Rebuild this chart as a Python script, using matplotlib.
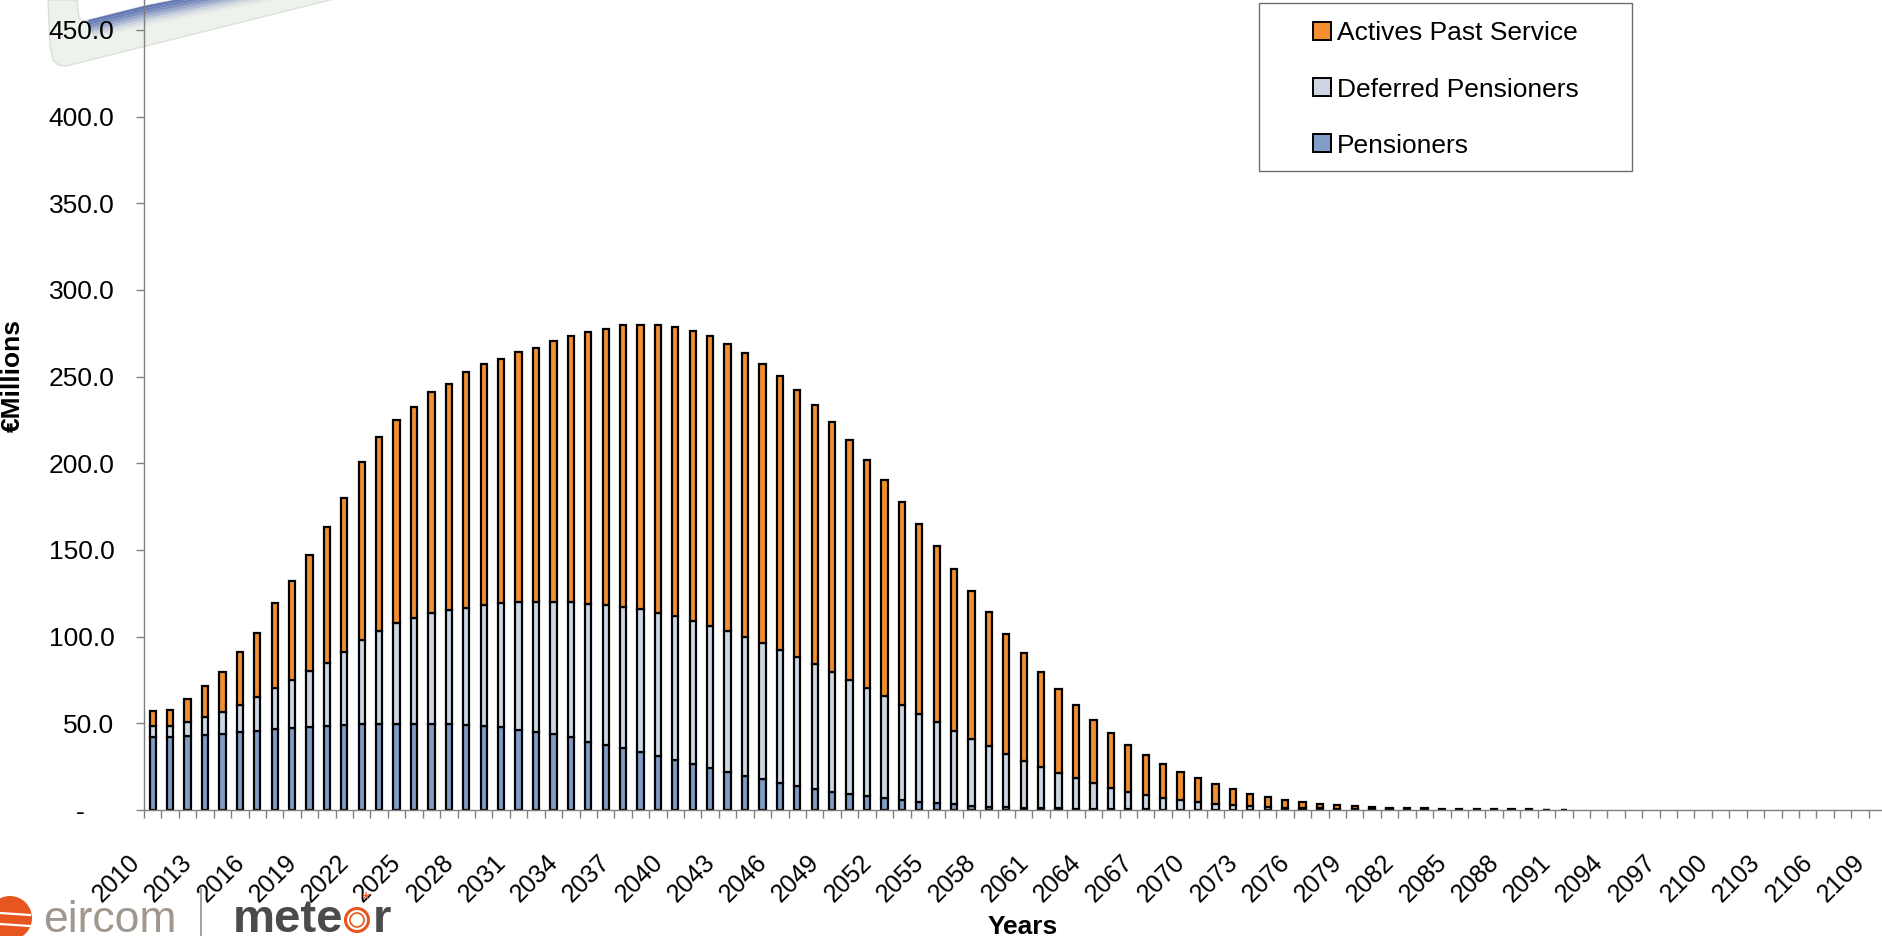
import numpy as np
import matplotlib
matplotlib.use("Agg")
import matplotlib.pyplot as plt
from matplotlib import transforms
from matplotlib.patches import Rectangle, Polygon, Circle
from matplotlib.lines import Line2D

plt.rcParams["font.family"] = ["Liberation Sans", "DejaVu Sans"]

# ---- data -----------------------------------------------------------------
years = list(range(2010, 2110))

pensioners = [
    42.1, 42.3, 42.9, 43.5, 44.0, 45.0, 45.8, 46.7, 47.5, 48.1,
    48.7, 49.2, 49.6, 49.8, 49.8, 49.8, 49.8, 49.4, 49.0, 48.3,
    47.7, 46.3, 45.2, 43.7, 42.1, 39.4, 37.7, 35.6, 33.7, 31.3,
    29.0, 26.7, 24.4, 21.9, 19.8, 17.9, 15.8, 13.8, 12.3, 10.6,
    9.0, 7.9, 6.7, 5.8, 4.8, 4.0, 3.3, 2.5, 1.9, 1.6,
    1.4, 1.2, 1.0, 0.8, 0.6, 0.5, 0.4, 0.3, 0.25, 0.2,
    0.15, 0.12, 0.1, 0.08, 0.06, 0.05, 0.04, 0.03, 0.02, 0.02,
    0.01, 0.01, 0.01, 0.01, 0.0, 0.0, 0.0, 0.0, 0.0, 0.0,
    0.0, 0.0, 0.0, 0.0, 0.0, 0.0, 0.0, 0.0, 0.0, 0.0,
    0.0, 0.0, 0.0, 0.0, 0.0, 0.0, 0.0, 0.0, 0.0, 0.0,
]

deferred = [
    6.4, 6.2, 8.1, 10.2, 12.7, 15.8, 19.4, 23.5, 27.5, 31.9,
    36.3, 42.1, 48.5, 53.7, 57.9, 61.2, 63.9, 65.8, 67.7, 70.2,
    71.5, 73.5, 74.6, 76.5, 77.9, 79.6, 80.8, 81.5, 82.1, 82.5,
    82.7, 82.5, 81.9, 81.4, 80.0, 78.3, 76.7, 74.7, 71.7, 69.0,
    66.0, 62.3, 58.9, 54.8, 50.8, 46.6, 42.5, 38.7, 34.8, 30.7,
    27.1, 23.8, 20.5, 17.5, 14.8, 12.4, 10.2, 8.4, 6.65, 5.4,
    4.25, 3.38, 2.6, 2.02, 1.64, 1.25, 1.06, 0.87, 0.68, 0.48,
    0.39, 0.29, 0.24, 0.19, 0.17, 0.14, 0.12, 0.10, 0.08, 0.07,
    0.06, 0.05, 0.0, 0.0, 0.0, 0.0, 0.0, 0.0, 0.0, 0.0,
    0.0, 0.0, 0.0, 0.0, 0.0, 0.0, 0.0, 0.0, 0.0, 0.0,
]

actives = [
    8.6, 9.0, 13.0, 18.0, 22.7, 30.5, 37.1, 49.2, 57.3, 66.9,
    78.1, 88.9, 102.7, 111.9, 117.5, 121.7, 127.3, 130.8, 136.2, 139.0,
    140.8, 144.2, 146.9, 150.2, 153.4, 156.6, 159.2, 162.5, 164.2, 165.8,
    166.8, 167.3, 167.0, 165.7, 163.8, 161.3, 158.1, 154.0, 149.6, 144.0,
    138.3, 131.7, 124.6, 117.3, 109.4, 101.5, 93.2, 85.1, 77.3, 69.2,
    61.9, 54.8, 48.3, 42.3, 36.7, 31.5, 26.9, 23.0, 19.4, 16.3,
    13.9, 11.3, 9.2, 7.3, 6.0, 4.7, 3.7, 2.8, 2.2, 1.8,
    1.3, 1.0, 0.85, 0.7, 0.6, 0.5, 0.4, 0.32, 0.27, 0.22,
    0.18, 0.15, 0.0, 0.0, 0.0, 0.0, 0.0, 0.0, 0.0, 0.0,
    0.0, 0.0, 0.0, 0.0, 0.0, 0.0, 0.0, 0.0, 0.0, 0.0,
]

series_names = ["Pensioners", "Deferred Pensioners", "Actives Past Service"]
series_colors = ["#809DC8", "#CDD7E4", "#F38F31"]
y_ticks = [0, 50, 100, 150, 200, 250, 300, 350, 400, 450]
label_step = 3

# ---- figure ---------------------------------------------------------------
W, H = 1883, 936
fig = plt.figure(figsize=(W / 100, H / 100), dpi=100)
# pixel coordinates measured from the top-left corner of the figure
px = transforms.Affine2D().scale(1 / W, -1 / H).translate(0, 1) + fig.transFigure

ax = fig.add_axes([144 / W, 126 / H, 1742.1 / W, 866.7 / H])
ax.patch.set_alpha(0)

x = np.arange(len(years))
stack = [np.array(pensioners), np.array(deferred), np.array(actives)]
bottom = np.zeros(len(years))
for vals, name, col in zip(stack, series_names, series_colors):
    m = vals > 0
    ax.bar(x[m], vals[m], bottom=bottom[m], width=0.36, color=col,
           edgecolor="black", linewidth=1.6, joinstyle="miter", label=name,
           zorder=3)
    bottom = bottom + vals

ax.set_xlim(-0.5, len(years) - 0.5)
ax.set_ylim(0, 500)

for s in ("top", "right"):
    ax.spines[s].set_visible(False)
for s in ("left", "bottom"):
    ax.spines[s].set_color("#808080")
    ax.spines[s].set_linewidth(1.0)
    ax.spines[s].set_zorder(4)

ax.set_yticks(y_ticks)
ax.set_yticklabels(["-    " if v == 0 else f"{v:.1f}" for v in y_ticks])
ax.tick_params(axis="y", direction="out", length=5.8, width=1.0,
               color="#808080", labelsize=19, pad=15.5, labelcolor="black")

ax.set_xticks(np.arange(len(years) + 1) - 0.5)
ax.set_xticklabels([])
ax.tick_params(axis="x", direction="out", length=5.8, width=1.0,
               color="#808080")

lab_tr = transforms.offset_copy(ax.get_xaxis_transform(), fig=fig,
                                x=-8, y=-40, units="dots")
for i, yr in enumerate(years):
    if i % label_step == 0:
        ax.text(i, 0, str(yr), transform=lab_tr, rotation=45, ha="right",
                va="top", fontsize=18, color="black", clip_on=False)

fig.text(13, 375, "€Millions", transform=px, rotation=90, ha="center",
         va="center", fontsize=19, fontweight="bold")
fig.text(1023, 934, "Years", transform=px, ha="center", va="baseline",
         fontsize=19, fontweight="bold")

# ---- legend ---------------------------------------------------------------
fig.add_artist(Rectangle((1259, 171), 373, -168, transform=px, fill=False,
                         edgecolor="#6E6E6E", linewidth=1.0))
rows = [30.7, 87.3, 143.3]
for yc, name, col in zip(rows, series_names[::-1], series_colors[::-1]):
    fig.add_artist(Rectangle((1313, yc + 9), 18, -18, transform=px,
                             facecolor=col, edgecolor="black", linewidth=1.4))
    fig.text(1337, yc + 9.3, name, transform=px, ha="left", va="baseline",
             fontsize=19)

# ---- decorative picture frame in the top-left corner --------------------------
inner_edge = [(330, -31), (144, 6), (100, 17), (84, 21), (79, 18), (77, 0)]
outer = [(48, 0), (50, 45), (53, 60), (58, 65), (66, 66), (144, 46.5),
         (330, 0), (345, -5)]
fig.add_artist(Polygon(outer + inner_edge, closed=True, transform=px,
                       facecolor="#EEF2ED", edgecolor="#DADFD8",
                       linewidth=1.0, zorder=-2))
# soft blue band running along the inner edge of the lower rail
band_top = [(88, 20), (100, 17), (144, 6), (330, -31)]
for k, a in enumerate([0.78, 0.72, 0.62, 0.48, 0.34, 0.2, 0.1, 0.04]):
    d0, d1 = 2.4 * k, 2.4 * (k + 1)
    up = [(xx + 0.3 * d0, yy + d0) for xx, yy in band_top]
    lo = [(xx + 0.3 * d1, yy + d1) for xx, yy in band_top[::-1]]
    fig.add_artist(Polygon(up + lo, closed=True, transform=px,
                           facecolor="#3B55A5", edgecolor="none", alpha=a,
                           zorder=-1))

# ---- company marks at the bottom-left ---------------------------------------
fig.add_artist(Circle((10, 918), 22, transform=px, facecolor="#E8561F",
                      edgecolor="none"))
for yy in (913, 924):
    fig.add_artist(Line2D([0, 30], [yy, yy + 2], transform=px, color="white",
                          linewidth=1.6))
fig.text(43, 932, "eircom", transform=px, ha="left", va="baseline",
         fontsize=32, color="#A0978F")
fig.add_artist(Line2D([201, 201], [889, 936], transform=px, color="#9A9A9A",
                      linewidth=1.3))
fig.text(233, 932, "mete", transform=px, ha="left", va="baseline",
         fontsize=34, fontweight="bold", color="#4B4B4B")
fig.add_artist(Circle((357, 920), 11.5, transform=px, fill=False,
                      edgecolor="#E8561F", linewidth=2.2))
fig.add_artist(Circle((357, 920), 7, transform=px, fill=False,
                      edgecolor="#E8561F", linewidth=1.2))
fig.text(373, 932, "r", transform=px, ha="left", va="baseline",
         fontsize=34, fontweight="bold", color="#4B4B4B")
fig.text(366, 906, "*", transform=px, ha="center", va="baseline",
         fontsize=15, color="#E8561F")

fig.savefig("out.png", dpi=100)
